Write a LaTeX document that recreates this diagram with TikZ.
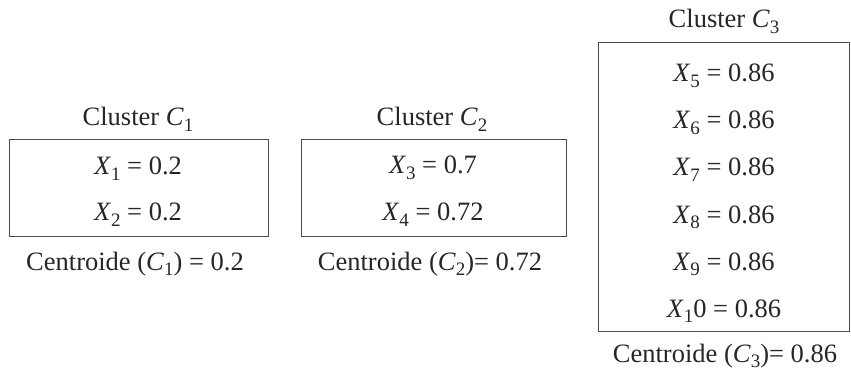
\documentclass[tikz,border=0pt]{standalone}
\usepackage{fontspec}
\setmainfont{Liberation Serif}
% lowered index digit for variable names
\newcommand{\idx}[1]{\raisebox{-0.22em}{\fontsize{19}{19}\selectfont #1}}
\newcommand{\xv}[1]{\textit{X}\idx{#1}}
\newcommand{\cv}[1]{\textit{C}\idx{#1}}
\begin{document}
\begin{tikzpicture}[x=1pt,y=-1pt,
  txt/.style={font=\fontsize{26.5}{30}\selectfont, anchor=base, inner sep=0pt, text=black!85},
  cbox/.style={draw=black!70, line width=1pt, inner sep=0pt, rectangle}]
\useasboundingbox (0,0) rectangle (851,374);

% cluster 1
\node[cbox, minimum width=259, minimum height=96] (b1) at (138.5,188) {};
\node[txt] (t1) at (138,126) {Cluster \cv{1}};
\node[txt] (x1) at (138,175) {\xv{1} = 0.2};
\node[txt] (x2) at (138,221) {\xv{2} = 0.2};
\node[txt] (c1) at (135,270) {Centroide (\cv{1}) = 0.2};

% cluster 2
\node[cbox, minimum width=265, minimum height=96] (b2) at (433.5,188) {};
\node[txt] (t2) at (432,126) {Cluster \cv{2}};
\node[txt] (x3) at (433,174) {\xv{3} = 0.7};
\node[txt] (x4) at (433,221) {\xv{4} = 0.72};
\node[txt] (c2) at (430,270) {Centroide (\cv{2})= 0.72};

% cluster 3
\node[cbox, minimum width=251, minimum height=288] (b3) at (723.5,187) {};
\node[txt] (t3) at (724,28) {Cluster \cv{3}};
\node[txt] (x5) at (724,82) {\xv{5} = 0.86};
\node[txt] (x6) at (724,129) {\xv{6} = 0.86};
\node[txt] (x7) at (724,176) {\xv{7} = 0.86};
\node[txt] (x8) at (724,223) {\xv{8} = 0.86};
\node[txt] (x9) at (724,270) {\xv{9} = 0.86};
\node[txt] (x10) at (724,317) {\xv{1}0 = 0.86};
\node[txt] (c3) at (725,362) {Centroide (\cv{3})= 0.86};
\end{tikzpicture}
\end{document}
